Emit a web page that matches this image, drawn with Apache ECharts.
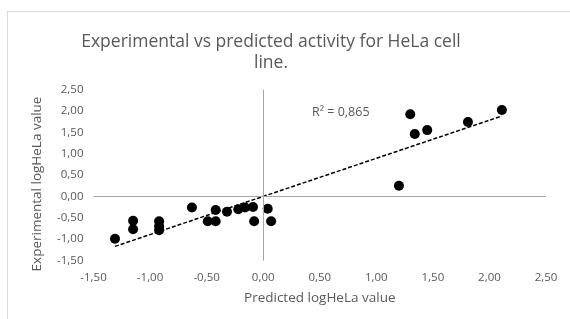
<!DOCTYPE html>
<html>
<head>
<meta charset="utf-8">
<script src="https://cdn.jsdelivr.net/npm/echarts@6/dist/echarts.min.js"></script>
<style>
  html, body { margin: 0; padding: 0; background: #fff; }
  #frame { position: absolute; left: 7px; top: 11px; right: -2px; bottom: -2px; border: 1px solid #d9d9d9; }
  #chart { width: 570px; height: 319px; position: absolute; left: 0; top: 0; }
</style>
</head>
<body>
<div id="frame"></div>
<div id="chart"></div>
<script>
// predicted (x) vs experimental (y) logHeLa values
const predicted = [-1.31, -1.15, -1.15, -0.92, -0.92, -0.92, -0.63, -0.49, -0.42, -0.42, -0.32, -0.22, -0.16, -0.09, -0.08, 0.04, 0.07, 1.20, 1.30, 1.34, 1.45, 1.81, 2.11];
const experimental = [-0.99, -0.57, -0.77, -0.58, -0.70, -0.79, -0.26, -0.58, -0.32, -0.58, -0.36, -0.30, -0.26, -0.25, -0.58, -0.29, -0.58, 0.25, 1.92, 1.46, 1.55, 1.74, 2.02];
// linear trendline ends
const trendX = [-1.31, 2.11];
const trendY = [-1.17, 1.88];
const r2Label = "R² = 0,865";

const fmt = (v) => v.toFixed(2).replace(".", ",");
const font = "'Open Sans', 'Noto Sans', sans-serif";
const grey = "#595959";

const points = predicted.map((x, i) => [x, experimental[i]]);
const trend = trendX.map((x, i) => [x, trendY[i]]);

const chart = echarts.init(document.getElementById("chart"));
chart.setOption({
  animation: false,
  title: {
    text: "Experimental vs predicted activity for HeLa cell\nline.",
    left: 266,
    top: 27,
    textAlign: "center",
    textStyle: { fontFamily: font, fontSize: 17.5, fontWeight: "normal", color: grey, lineHeight: 21 },
  },
  grid: { left: 93.5, right: 24, top: 89.5, bottom: 58.5 },
  xAxis: {
    type: "value",
    min: -1.5, max: 2.5, interval: 0.5,
    name: "Predicted logHeLa value",
    nameLocation: "middle",
    nameGap: 31,
    nameTextStyle: { fontFamily: font, fontSize: 13.5, color: grey },
    axisLine: { show: false },
    axisTick: { show: false },
    splitLine: { show: false },
    axisLabel: { formatter: fmt, fontFamily: font, fontSize: 11.5, color: grey, margin: 11 },
  },
  yAxis: {
    type: "value",
    min: -1.5, max: 2.5, interval: 0.5,
    name: "Experimental logHeLa value",
    nameLocation: "middle",
    nameGap: 49,
    // excel centres this title a bit lower than the plot middle
    nameTextStyle: { fontFamily: font, fontSize: 13.5, color: grey, padding: [0, 18, 0, 0] },
    axisLine: { show: false },
    axisTick: { show: false },
    splitLine: { show: false },
    axisLabel: { formatter: fmt, fontFamily: font, fontSize: 11.5, color: grey, margin: 10 },
  },
  graphic: [{
    type: "text",
    left: 312, top: 106,
    style: { text: r2Label, fontFamily: font, fontSize: 12.5, fill: grey },
  }],
  series: [
    {
      type: "line",
      data: trend,
      symbol: "none",
      lineStyle: { color: "#000", width: 1.5, type: [4, 2] },
      z: 3,
      markLine: {
        silent: true,
        symbol: "none",
        label: { show: false },
        lineStyle: { color: "#a6a6a6", width: 1, type: "solid" },
        data: [{ xAxis: 0 }, { yAxis: 0 }],
      },
    },
    {
      type: "scatter",
      data: points,
      symbol: "circle",
      symbolSize: 10,
      itemStyle: { color: "#000", opacity: 1 },
      z: 4,
    },
  ],
});
</script>
</body>
</html>
